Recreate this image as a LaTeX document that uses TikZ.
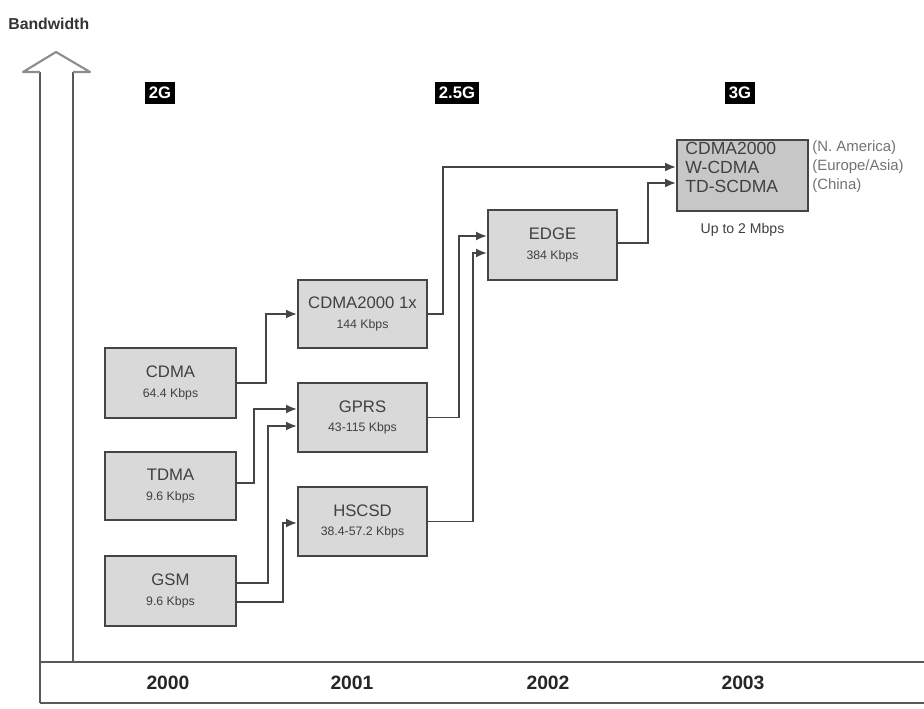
\documentclass[tikz,border=0pt]{standalone}
\usepackage{fontspec}
\setmainfont{Liberation Sans}
\usepackage{tikz}
\usetikzlibrary{arrows.meta,calc,positioning}
\definecolor{cajagris}{rgb}{0.85,0.85,0.85}
\definecolor{cajaoscura}{rgb}{0.78,0.78,0.78}
\definecolor{bordegris}{rgb}{0.27,0.27,0.27}
\definecolor{textogris}{rgb}{0.25,0.25,0.25}
\definecolor{ejegris}{rgb}{0.35,0.35,0.35}
\tikzset{
  tecno/.style={
    draw=bordegris,
    line width=1.1pt,
    fill=cajagris,
    align=center,
    text=textogris,
    inner sep=0pt,
    font=\fontsize{9.5}{12}\selectfont
  },
  gen/.style={
    fill=black,
    text=white,
    inner xsep=2pt,
    inner ysep=3pt,
    font=\bfseries\fontsize{9.5}{11}\selectfont
  },
  anio/.style={
    text=black!85,
    font=\bfseries\fontsize{11}{13}\selectfont
  },
  region/.style={
    text=black!55,
    anchor=west,
    inner sep=0pt,
    font=\fontsize{8.5}{10}\selectfont
  },
  flecha/.style={
    -{Latex[length=2.2mm,width=1.8mm]},
    line width=1.1pt,
    bordegris
  }
}
\newcommand{\vel}[1]{\\[-1pt]{\fontsize{7}{8}\selectfont #1}}

\begin{document}
\begin{tikzpicture}[x=0.02cm,y=-0.02cm]
\useasboundingbox (0,0) rectangle (924,709);
% ejes
\draw[ejegris,line width=1.2pt] (40,703) -- (40,72);
\draw[ejegris,line width=1.2pt] (73,662) -- (73,72);
\draw[black!45,line width=1.2pt,line join=round] (40,72) -- (23,72) -- (56,52) -- (90,72) -- (73,72);
\draw[ejegris,line width=1.2pt] (40,662) -- (924,662);
\draw[ejegris,line width=1.2pt] (40,703) -- (924,703);
\node[anchor=west,inner sep=0pt,text=black!80,font=\bfseries\fontsize{9}{11}\selectfont] (bw) at (8,24) {Bandwidth};
% generaciones
\node[gen] (g2) at (160,93) {2G};
\node[gen] (g25) at (457,93) {2.5G};
\node[gen] (g3l) at (740,93) {3G};
% anos
\node[anio] (y00) at (168,683) {2000};
\node[anio] (y01) at (352,683) {2001};
\node[anio] (y02) at (548,683) {2002};
\node[anio] (y03) at (743,683) {2003};
% tecnologias
\node[tecno,minimum width=2.62cm,minimum height=1.4cm] (cdma) at (170.5,383) {CDMA\vel{64.4 Kbps}};
\node[tecno,minimum width=2.62cm,minimum height=1.36cm] (tdma) at (170.5,486) {TDMA\vel{9.6 Kbps}};
\node[tecno,minimum width=2.62cm,minimum height=1.4cm] (gsm) at (170.5,591) {GSM\vel{9.6 Kbps}};
\node[tecno,minimum width=2.58cm,minimum height=1.36cm] (cdma1x) at (362.5,314) {CDMA2000 1x\vel{144 Kbps}};
\node[tecno,minimum width=2.58cm,minimum height=1.38cm] (gprs) at (362.5,417.5) {GPRS\vel{43-115 Kbps}};
\node[tecno,minimum width=2.58cm,minimum height=1.38cm] (hscsd) at (362.5,521.5) {HSCSD\vel{38.4-57.2 Kbps}};
\node[tecno,minimum width=2.58cm,minimum height=1.4cm] (edge) at (552.5,245) {EDGE\vel{384 Kbps}};
\node[tecno,fill=cajaoscura,minimum width=2.62cm,minimum height=1.42cm] (g3) at (742.5,175.5) {};
\node[anchor=north west,align=left,inner sep=0pt,text=textogris,font=\fontsize{10}{10.8}\selectfont]
  (g3txt) at ($(g3.north west)+(9,3)$) {CDMA2000\\W-CDMA\\TD-SCDMA};
\node[below=6pt of g3,inner sep=0pt,text=textogris,font=\fontsize{8}{9}\selectfont] (hasta) {Up to 2 Mbps};
\node[region] (na) at (812,148) {(N. America)};
\node[region] (eu) at (812,167) {(Europe/Asia)};
\node[region] (cn) at (812,186) {(China)};
% conexiones
\draw[flecha] (cdma.east) -- ++(29,0) |- (cdma1x.west);
\draw[flecha] ($(tdma.east)+(0,-3)$) -- ++(17,0) |- ($(gprs.west)+(0,-8.5)$);
\draw[flecha] ($(gsm.east)+(0,-8)$) -- ++(31,0) |- ($(gprs.west)+(0,8.5)$);
\draw[flecha] ($(gsm.east)+(0,11)$) -- ++(46,0) |- ($(hscsd.west)+(0,1.5)$);
\draw[flecha] (cdma1x.east) -- ++(15,0) |- ($(g3.west)+(0,-8.5)$);
\draw[flecha] (gprs.east) -- ++(31,0) |- ($(edge.west)+(0,-9)$);
\draw[flecha] (hscsd.east) -- ++(45,0) |- ($(edge.west)+(0,8)$);
\draw[flecha] ($(edge.east)+(0,-2)$) -- ++(30,0) |- ($(g3.west)+(0,7.5)$);
\end{tikzpicture}
\end{document}
